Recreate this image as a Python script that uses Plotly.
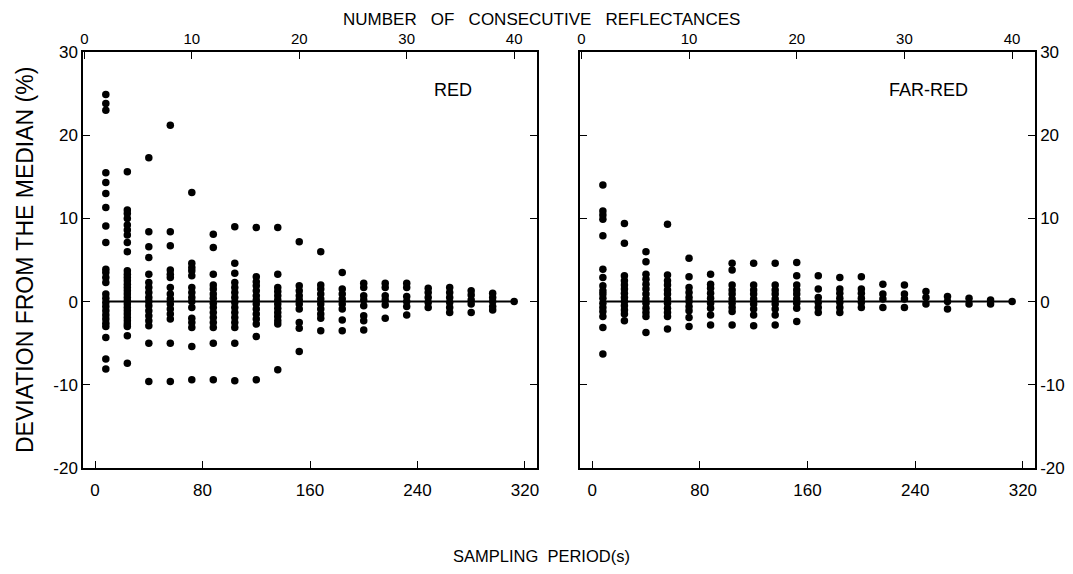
import plotly.graph_objects as go

# Sampling periods (s) of the 20 columns
periods = [8, 24, 40, 56, 72, 88, 104, 120, 136, 152, 168, 184, 200, 216, 232, 248, 264, 280, 296, 312]

# Deviation from the median (%) - RED
red_dev = [
    [24.9, 23.8, 23.0, 15.5, 14.3, 13.0, 11.3, 9.1, 7.1, 3.9, 3.5, 2.9, 2.3, 0.9, 0.4, -0.1, -0.6, -1.1, -1.6, -2.1, -2.6, -3.0, -4.3, -6.9, -8.1],
    [15.6, 11.0, 10.6, 10.0, 9.2, 8.6, 8.0, 7.1, 6.0, 3.7, 3.3, 2.9, 2.5, 2.1, 1.7, 1.3, 0.9, 0.5, 0.1, -0.3, -0.7, -1.1, -1.5, -1.9, -2.3, -2.7, -3.0, -4.1, -7.4],
    [17.3, 8.4, 6.6, 5.3, 3.3, 2.3, 1.7, 1.1, 0.5, 0.0, -0.5, -1.1, -1.7, -2.3, -2.9, -5.0, -9.6],
    [21.2, 8.4, 6.7, 3.8, 3.3, 2.9, 1.7, 0.9, 0.3, -0.3, -0.9, -1.5, -2.1, -5.0, -9.6],
    [13.1, 4.6, 4.1, 3.7, 3.1, 1.7, 1.1, 0.5, 0.0, -0.7, -2.0, -2.5, -3.1, -5.4, -9.4],
    [8.1, 6.5, 3.3, 2.0, 1.5, 0.9, 0.4, -0.2, -0.7, -1.3, -1.9, -2.5, -3.1, -5.0, -9.4],
    [9.0, 4.6, 3.4, 2.3, 1.7, 1.1, 0.5, -0.1, -0.7, -1.3, -1.9, -2.5, -3.1, -5.0, -9.5],
    [8.9, 3.0, 2.4, 1.9, 1.3, 0.7, 0.2, -0.3, -0.9, -1.5, -2.1, -2.7, -4.2, -9.4],
    [8.9, 3.3, 1.7, 1.2, 0.7, 0.2, -0.3, -0.8, -1.3, -1.8, -2.3, -2.7, -8.2],
    [7.2, 1.9, 1.3, 0.7, 0.2, -0.3, -0.9, -2.5, -3.2, -6.0],
    [6.0, 2.0, 1.5, 0.9, 0.3, -0.3, -0.9, -1.5, -2.0, -3.5],
    [3.5, 1.5, 0.9, 0.3, -0.3, -0.9, -2.2, -3.5],
    [2.2, 1.7, 0.7, 0.2, -0.5, -1.7, -2.3, -3.4],
    [2.2, 1.7, 0.7, 0.2, -0.4, -2.0],
    [2.2, 1.7, 0.6, 0.0, -0.6, -1.6],
    [1.6, 1.1, 0.5, -0.1, -0.7],
    [1.7, 1.1, 0.5, -0.1, -0.7, -1.3],
    [1.3, 0.8, 0.2, -0.3, -1.3],
    [1.0, 0.5, 0.0, -0.6, -1.0],
    [0.0],
]

# Deviation from the median (%) - FAR-RED
far_red_dev = [
    [14.0, 10.9, 10.4, 9.9, 7.9, 3.9, 2.9, 1.9, 1.3, 0.9, 0.4, -0.2, -0.7, -1.2, -1.8, -3.1, -6.3],
    [9.4, 7.0, 3.1, 2.5, 2.0, 1.5, 1.0, 0.5, 0.0, -0.5, -1.0, -1.5, -2.3],
    [6.0, 4.8, 3.3, 2.7, 2.1, 1.5, 0.9, 0.3, -0.2, -0.8, -1.3, -1.8, -3.7],
    [9.3, 3.2, 2.5, 2.0, 1.4, 0.9, 0.3, -0.2, -0.8, -1.3, -1.8, -3.3],
    [5.2, 3.0, 1.7, 1.1, 0.5, 0.0, -0.6, -1.1, -1.9, -3.0],
    [3.3, 2.1, 1.6, 1.0, 0.4, -0.2, -0.8, -1.6, -2.8],
    [4.6, 3.8, 2.0, 1.4, 0.9, 0.3, -0.2, -0.7, -1.2, -2.8],
    [4.6, 2.0, 1.4, 0.9, 0.3, -0.3, -0.9, -1.6, -2.9],
    [4.6, 2.0, 1.4, 0.9, 0.3, -0.3, -0.9, -1.6, -2.8],
    [4.7, 3.1, 2.0, 1.4, 0.9, 0.3, -0.2, -0.8, -2.4],
    [3.1, 1.5, 0.5, -0.1, -0.7, -1.3],
    [2.9, 1.5, 1.0, 0.4, -0.1, -0.7, -1.3],
    [3.0, 1.5, 1.0, 0.4, -0.1, -0.7],
    [2.1, 0.9, 0.3, -0.7],
    [2.0, 0.9, 0.3, -0.7],
    [1.2, 0.5, -0.3],
    [0.6, 0.0, -0.9],
    [0.4, -0.3],
    [0.2, -0.3],
    [0.0],
]

y_ticks = [-20, -10, 0, 10, 20, 30]
bottom_ticks = [0, 80, 160, 240, 320]
top_ticks = [0, 10, 20, 30, 40]
median_line = [0, 0]
y_ticktext = [str(v) for v in y_ticks]  # plain hyphen minus as in the original


def flatten(cols):
    xs, ys = [], []
    for p, vals in zip(periods, cols):
        for v in vals:
            xs.append(p)
            ys.append(v)
    return xs, ys


rx, ry = flatten(red_dev)
fx, fy = flatten(far_red_dev)

FONT = "Liberation Sans, Arial, sans-serif"
fig = go.Figure()

line_x = [periods[0], periods[-1]]
fig.add_trace(go.Scatter(x=line_x, y=median_line, mode="lines", line=dict(color="black", width=2),
                         xaxis="x", yaxis="y", showlegend=False, hoverinfo="skip"))
fig.add_trace(go.Scatter(x=rx, y=ry, mode="markers", marker=dict(color="black", size=7.5),
                         xaxis="x", yaxis="y", showlegend=False))
fig.add_trace(go.Scatter(x=line_x, y=median_line, mode="lines", line=dict(color="black", width=2),
                         xaxis="x2", yaxis="y2", showlegend=False, hoverinfo="skip"))
fig.add_trace(go.Scatter(x=fx, y=fy, mode="markers", marker=dict(color="black", size=7.5),
                         xaxis="x2", yaxis="y2", showlegend=False))
# invisible traces to activate the top axes
fig.add_trace(go.Scatter(x=[0], y=[0], mode="markers", marker=dict(opacity=0),
                         xaxis="x3", yaxis="y", showlegend=False, hoverinfo="skip"))
fig.add_trace(go.Scatter(x=[0], y=[0], mode="markers", marker=dict(opacity=0),
                         xaxis="x4", yaxis="y2", showlegend=False, hoverinfo="skip"))

W, H = 1073, 574
left_dom = [75 / W, 529 / W]
right_dom = [572 / W, 1027 / W]
y_dom = [1 - 460 / H, 1 - 44 / H]

xr = [-9, 329]
top_r = [(xr[0] + 8) / 8, (xr[1] + 8) / 8]

base_ax = dict(showgrid=False, zeroline=False, showline=True, linecolor="black", linewidth=1.5,
               ticks="inside", ticklen=7, tickwidth=1.2, tickcolor="black", automargin=False)
x_top = dict(base_ax, tickfont=dict(family=FONT, size=15, color="black"))
x_bot = dict(base_ax, tickfont=dict(family=FONT, size=17, color="black"), ticklabelstandoff=6)
y_ax = dict(base_ax, tickfont=dict(family=FONT, size=17, color="black"))

fig.update_layout(
    width=W, height=H, margin=dict(l=0, r=0, t=0, b=0, autoexpand=False),
    paper_bgcolor="white", plot_bgcolor="white",
    xaxis=dict(domain=left_dom, range=xr, tickvals=bottom_ticks, anchor="y", **x_bot),
    xaxis2=dict(domain=right_dom, range=xr, tickvals=bottom_ticks, anchor="y2", **x_bot),
    xaxis3=dict(domain=left_dom, range=top_r, tickvals=top_ticks, anchor="y", overlaying="x", side="top", **x_top),
    xaxis4=dict(domain=right_dom, range=top_r, tickvals=top_ticks, anchor="y2", overlaying="x2", side="top", **x_top),
    yaxis=dict(domain=y_dom, range=[-20, 30], tickvals=y_ticks, ticktext=y_ticktext, anchor="x",
               mirror="ticks", **y_ax),
    yaxis2=dict(domain=y_dom, range=[-20, 30], tickvals=y_ticks, ticktext=y_ticktext, anchor="x2",
                side="right", mirror="ticks", **y_ax),
)

NB = "\u00a0\u00a0\u00a0"
fig.add_annotation(text=NB.join(["NUMBER", "OF", "CONSECUTIVE", "REFLECTANCES"]), x=533 / W, y=1,
                   xref="paper", yref="paper", showarrow=False, xanchor="center", yanchor="top",
                   font=dict(family=FONT, size=17, color="black"))
fig.add_annotation(text="\u00a0\u00a0".join(["SAMPLING", "PERIOD(s)"]), x=533 / W, y=1 - 548 / H,
                   xref="paper", yref="paper", showarrow=False, xanchor="center", yanchor="middle",
                   font=dict(family=FONT, size=16.5, color="black"))
fig.add_annotation(text="RED", x=445 / W, y=1 - 82 / H, xref="paper", yref="paper",
                   showarrow=False, xanchor="center", yanchor="middle",
                   font=dict(family=FONT, size=18, color="black"))
fig.add_annotation(text="FAR-RED", x=920 / W, y=1 - 82 / H, xref="paper", yref="paper",
                   showarrow=False, xanchor="center", yanchor="middle",
                   font=dict(family=FONT, size=18, color="black"))
fig.add_annotation(text="DEVIATION FROM THE MEDIAN (%)", x=17 / W, y=1 - 252 / H, xref="paper", yref="paper",
                   showarrow=False, textangle=-90, xanchor="center", yanchor="middle",
                   font=dict(family=FONT, size=23, color="black"))

fig.write_html("out.html")
